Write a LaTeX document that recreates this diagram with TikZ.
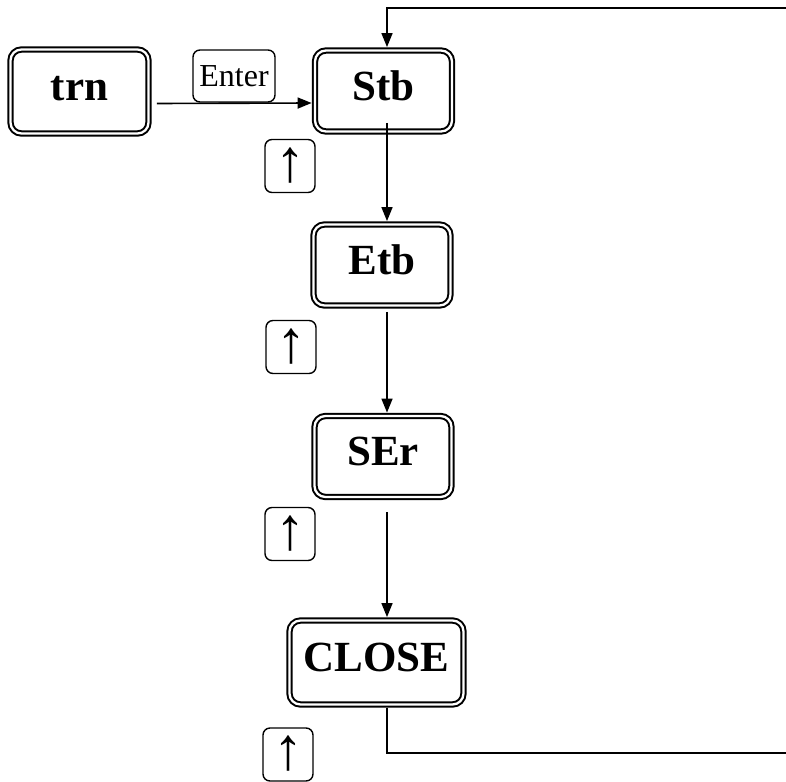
\documentclass[tikz,border=0pt]{standalone}
\usepackage{fontspec}
\setmainfont{Liberation Serif}
\usetikzlibrary{arrows.meta}
\begin{document}
\begin{tikzpicture}[x=1pt,y=-1pt,
  state/.style={draw, double, line width=2pt, double distance=2.3pt,
    rounded corners=11pt, minimum width=137pt, minimum height=81pt,
    inner sep=0pt, outer sep=3.4pt,
    font=\fontsize{43}{43}\selectfont\bfseries, text height=28pt, text depth=10pt},
  keybox/.style={draw, line width=1.4pt, rounded corners=7pt, inner sep=0pt, outer sep=0pt},
  upkey/.style={keybox, minimum width=50pt, minimum height=53pt,
    font=\fontsize{60}{60}\selectfont, text height=30pt, text depth=0pt},
  flow/.style={line width=1.6pt, -{Triangle[length=14pt,width=11pt]}},
  plain/.style={line width=1.6pt}]
\useasboundingbox (0,0) rectangle (786,781);

% menu states
\node[state, minimum width=138pt, minimum height=84pt] (trn) at (79.5,91.5) {trn};
\node[state] (stb) at (383.5,91) {Stb};
\node[state] (etb) at (382,265) {Etb};
\node[state] (ser) at (383,456.5) {SEr};
\node[state, minimum width=174pt, minimum height=84pt] (close) at (376.5,662.5) {CLOSE};

% keys
\node[keybox, minimum width=82pt, minimum height=52pt,
  font=\fontsize{32}{32}\selectfont, text height=21pt, text depth=0pt] (enter) at (234,76) {Enter};
\node[upkey] (k1) at (290,166) {↑};
\node[upkey] (k2) at (291,347) {↑};
\node[upkey] (k3) at (290,534) {↑};
\node[upkey] (k4) at (288,754.5) {↑};

% loop ends at the right margin
\coordinate (rt) at (786,8);
\coordinate (rb) at (786,753);

% connectors
\draw[flow] ([xshift=5pt,yshift=-12pt]trn.east) -- ([yshift=-12pt]stb.west);
\draw[flow] ([xshift=3.5pt,yshift=12pt]stb.south) -- ([xshift=5pt]etb.north);
\draw[flow] ([xshift=5pt,yshift=-3pt]etb.south) -- ([xshift=4pt]ser.north);
\draw[flow] ([xshift=4pt,yshift=-12pt]ser.south) -- ([xshift=10.5pt]close.north);
\draw[plain] ([xshift=10.5pt]close.south) |- (rb);
\draw[flow] (rt) -| ([xshift=3.5pt]stb.north);
\end{tikzpicture}
\end{document}
